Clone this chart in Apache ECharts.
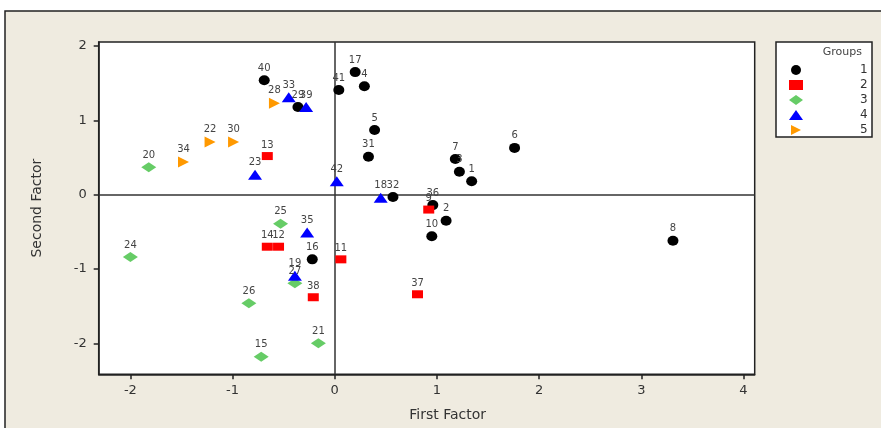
<!DOCTYPE html>
<html>
<head>
<meta charset="utf-8">
<script src="https://cdn.jsdelivr.net/npm/echarts@6/dist/echarts.min.js"></script>
<style>
html,body{margin:0;padding:0;background:#fff;}
#c{width:881px;height:428px;}
</style>
</head>
<body>
<div id="c"></div>
<script>
// ---- data (First Factor, Second Factor, case number) ----
var groupNames = ['1', '2', '3', '4', '5'];
var group1 = [[1.34,0.18,'1'],[1.09,-0.35,'2'],[1.22,0.31,'3'],[0.29,1.46,'4'],[0.39,0.87,'5'],[1.76,0.63,'6'],[1.18,0.48,'7'],[3.31,-0.62,'8'],[0.95,-0.56,'10'],[-0.22,-0.87,'16'],[0.20,1.65,'17'],[-0.36,1.18,'29'],[0.33,0.51,'31'],[0.57,-0.03,'32'],[0.96,-0.14,'36'],[-0.69,1.54,'40'],[0.04,1.41,'41']];
var group2 = [[0.92,-0.20,'9'],[0.06,-0.87,'11'],[-0.55,-0.70,'12'],[-0.66,0.52,'13'],[-0.66,-0.70,'14'],[0.81,-1.34,'37'],[-0.21,-1.38,'38']];
var group3 = [[-0.72,-2.18,'15'],[-1.82,0.37,'20'],[-0.16,-2.00,'21'],[-2.00,-0.84,'24'],[-0.53,-0.39,'25'],[-0.84,-1.46,'26'],[-0.39,-1.19,'27']];
var group4 = [[0.45,-0.04,'18'],[-0.39,-1.09,'19'],[-0.78,0.27,'23'],[-0.45,1.31,'33'],[-0.27,-0.51,'35'],[-0.28,1.18,'39'],[0.02,0.18,'42']];
var group5 = [[-1.22,0.71,'22'],[-0.59,1.23,'28'],[-0.99,0.71,'30'],[-1.48,0.44,'34']];
var xTicks = [-2, -1, 0, 1, 2, 3, 4];
var yTicks = [-2, -1, 0, 1, 2];
var xTitle = 'First Factor';
var yTitle = 'Second Factor';
var legendTitle = 'Groups';

var groups = [group1, group2, group3, group4, group5];
var colors = ['#000000', '#ff0000', '#66cc66', '#0000ff', '#ff9900'];
var symbols = ['circle', 'rect', 'diamond', 'triangle', 'path://M0,0 L10,5 L0,10 Z'];
var sizes = [[11,10], [11,8], [15,10], [14,10], [11,11]];

var FONT = 'DejaVu Sans';
var series = groups.map(function (g, i) {
  var s = {
    name: groupNames[i],
    type: 'scatter',
    symbol: symbols[i],
    symbolSize: sizes[i],
    itemStyle: { color: colors[i], opacity: 1 },
    data: g.map(function (d) { return { value: [d[0], d[1]], name: d[2] }; }),
    label: {
      show: true,
      position: 'top',
      distance: 2,
      formatter: '{b}',
      color: '#444',
      fontSize: 10,
      fontFamily: FONT
    },
    labelLayout: { hideOverlap: false },
    emphasis: { disabled: true },
    z: 3
  };
  if (i === 0) {
    s.markLine = {
      silent: true,
      symbol: 'none',
      label: { show: false },
      lineStyle: { color: '#333', width: 1.5, type: 'solid' },
      emphasis: { disabled: true },
      animation: false,
      data: [{ xAxis: 0 }, { yAxis: 0 }],
      z: 1
    };
  }
  return s;
});

var chart = echarts.init(document.getElementById('c'));
chart.setOption({
  animation: false,
  backgroundColor: 'transparent',
  textStyle: { fontFamily: FONT },
  graphic: [
    { type: 'rect', z: -10, shape: { x: 5, y: 11, width: 900, height: 440 },
      style: { fill: '#efebe0', stroke: '#222', lineWidth: 1.5 }, silent: true },
    { type: 'rect', z: -5, shape: { x: 776, y: 42, width: 96, height: 95 },
      style: { fill: '#ffffff', stroke: '#222', lineWidth: 1.5 }, silent: true },
    { type: 'text', z: 5, x: 862, y: 52, style: { text: legendTitle, fill: '#444', font: '11px "' + FONT + '"', textAlign: 'right', textVerticalAlign: 'middle' }, silent: true }
  ],
  grid: {
    left: 98.7, top: 42, right: 126.3, bottom: 53.7,
    show: true, backgroundColor: '#ffffff', borderColor: '#222', borderWidth: 1.5, z: 0
  },
  legend: {
    orient: 'vertical',
    left: 784, top: 59,
    itemWidth: 14, itemHeight: 10, itemGap: 3,
    data: groupNames.map(function (n, i) { return { name: n, icon: symbols[i] }; }),
    textStyle: { color: '#333', fontSize: 12, lineHeight: 11, fontFamily: FONT, padding: [0, 0, 0, 52] },
    selectedMode: false
  },
  xAxis: {
    type: 'value', min: -2.31, max: 4.11,
    name: xTitle, nameLocation: 'middle', nameGap: 34,
    nameTextStyle: { color: '#333', fontSize: 14, fontFamily: FONT, padding: [0, 0, 0, 42] },
    axisLine: { show: true, onZero: false, lineStyle: { color: '#222', width: 1.5 } },
    axisTick: { show: true, length: 5, customValues: xTicks, lineStyle: { color: '#222', width: 1.5 } },
    axisLabel: { customValues: xTicks, color: '#333', fontSize: 13, margin: 10, fontFamily: FONT },
    splitLine: { show: false }
  },
  yAxis: {
    type: 'value', min: -2.417, max: 2.055,
    name: yTitle, nameLocation: 'middle', nameGap: 54, nameRotate: 90,
    nameTextStyle: { color: '#333', fontSize: 14, fontFamily: FONT },
    axisLine: { show: true, onZero: false, lineStyle: { color: '#222', width: 1.5 } },
    axisTick: { show: true, length: 5, customValues: yTicks, lineStyle: { color: '#222', width: 1.5 } },
    axisLabel: { customValues: yTicks, color: '#333', fontSize: 13, margin: 12, fontFamily: FONT },
    splitLine: { show: false }
  },
  series: series
});
</script>
</body>
</html>
